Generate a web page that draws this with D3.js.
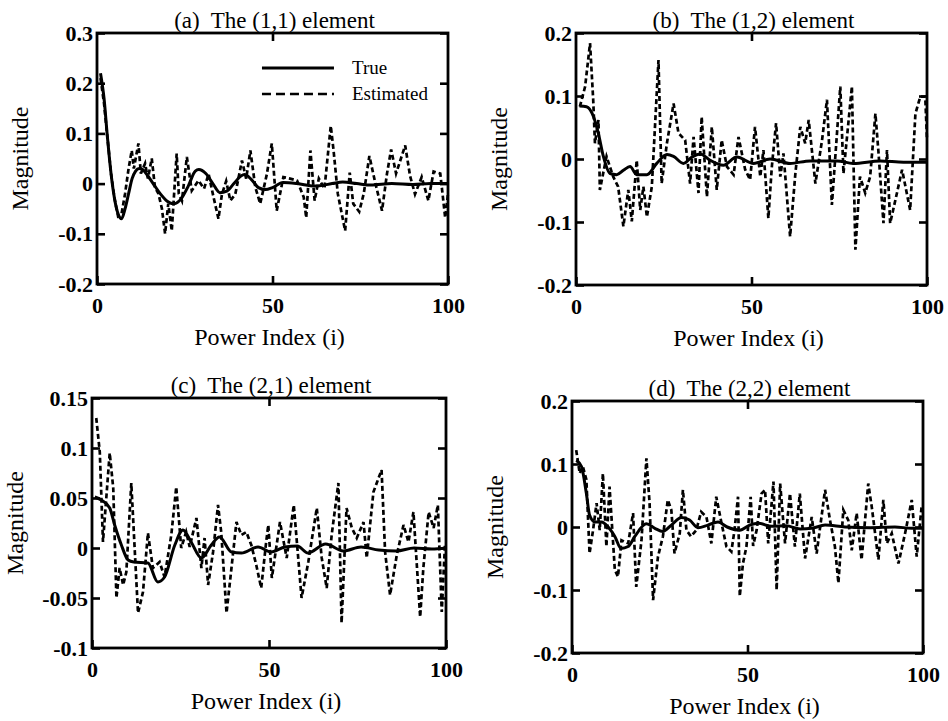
<!DOCTYPE html>
<html>
<head>
<meta charset="utf-8">
<script src="https://cdn.jsdelivr.net/npm/d3@7"></script>
<style>
  body { margin: 0; background: #fff; }
  svg text { font-family: 'Liberation Serif', 'Times New Roman', serif; fill: #000; }
</style>
</head>
<body>
<div id="chart"></div>
<script>

// ---- values ----
const xTicks = [0, 50, 100];
const yTicksA = [-0.2, -0.1, 0, 0.1, 0.2, 0.3];
const yTicksB = [-0.2, -0.1, 0, 0.1, 0.2];
const yTicksC = [-0.1, -0.05, 0, 0.05, 0.1, 0.15];
const yTicksD = [-0.2, -0.1, 0, 0.1, 0.2];

const titles = ['(a)  The (1,1) element', '(b)  The (1,2) element',
                '(c)  The (2,1) element', '(d)  The (2,2) element'];
const legendLabels = ['True', 'Estimated'];

// (a) the (1,1) element: [power index, magnitude]
const trueA = [[1,0.22],[2,0.17],[3,0.09],[4,0.02],[5,-0.03],[6,-0.06],[7,-0.07],[8,-0.05],[9,-0.02],[10,0.01],
  [11,0.025],[12,0.03],[13,0.028],[14,0.02],[16,0.0],[18,-0.02],[20,-0.035],[22,-0.04],[24,-0.03],[26,-0.005],
  [28,0.025],[29,0.028],[31,0.02],[33,0.0],[35,-0.018],[37,-0.015],[39,0.0],[41,0.015],[42,0.018],[44,0.008],
  [46,-0.008],[48,-0.012],[50,-0.008],[53,0.002],[57,0.0],[62,-0.005],[67,0.0],[70,0.003],[74,0.0],[78,-0.003],
  [84,0.0],[90,-0.002],[95,0.0],[100,0.0]];
const estA = [[1,0.21],[2,0.16],[3,0.09],[4,0.02],[5,-0.03],[6,-0.065],[7,-0.06],[8,-0.02],[9,0.03],[9.9,0.066],
  [10.5,0.03],[11.8,0.08],[12.5,0.02],[13.7,0.04],[14.5,0.01],[15.6,0.05],[16.5,-0.007],[17.5,-0.02],[18.5,-0.05],
  [19.4,-0.1],[20.3,-0.04],[21.3,-0.094],[22.7,0.06],[23.3,-0.02],[24.2,-0.034],[25.6,0.053],[27,-0.014],
  [28.9,0.006],[30.5,-0.01],[31.8,0.019],[33.2,-0.027],[34.6,-0.07],[35.6,-0.021],[36.8,0.005],[38,-0.034],
  [39.4,-0.021],[41.3,0.046],[42.5,0.01],[43.7,0.066],[45.1,-0.007],[46.5,-0.04],[48.4,0.019],[49.8,0.08],
  [51.2,-0.054],[53.1,0.013],[55,0.01],[57,0.006],[58.9,-0.027],[59.6,-0.068],[60.8,0.066],[62,-0.034],
  [63.2,0.01],[64.8,-0.01],[66.6,0.115],[67.4,0.066],[68.6,-0.02],[70.7,-0.094],[72,0.022],[73,-0.04],
  [74.7,-0.056],[76,-0.02],[77.6,0.055],[79.2,0.004],[81.2,-0.054],[82.6,0.019],[83.8,0.068],[85.2,0.02],
  [87.8,0.076],[89.2,0.015],[90.6,-0.021],[92.5,0.013],[94.4,-0.034],[95.9,0.024],[97.8,0.02],[99.2,-0.068],
  [100,-0.02]];

// (b) the (1,2) element
const trueB = [[1,0.084],[3,0.083],[5,0.067],[6.4,0.04],[7.8,0.004],[9.7,-0.023],[11.6,-0.025],[13.5,-0.018],
  [15.4,-0.012],[17.3,-0.025],[20.2,-0.025],[23,-0.007],[25.9,0.007],[27.8,0.004],[30.6,-0.007],[33,0.003],
  [35.4,0.008],[38.2,-0.002],[42,-0.01],[45.8,0.003],[50.6,-0.007],[55.3,0.0],[61,-0.007],[66.7,-0.003],
  [74.3,-0.003],[79,-0.007],[86.7,-0.003],[93.3,-0.005],[100,-0.005]];
const estB = [[1.1,0.083],[2.6,0.115],[4,0.184],[4.9,0.094],[5.4,0.025],[6.4,0.062],[6.8,-0.049],[8.7,0.004],
  [10.6,-0.028],[12,-0.044],[13.5,-0.107],[14.9,-0.049],[15.9,-0.099],[17.3,-0.002],[18.3,-0.081],[19.2,-0.044],
  [20.2,-0.092],[21.6,-0.044],[23.5,0.157],[24.4,-0.039],[25.9,0.025],[27.8,0.088],[29.2,0.041],[31.1,0.03],
  [32.5,-0.039],[33.5,0.035],[34.9,-0.054],[35.8,0.067],[37.3,-0.06],[38.7,0.051],[40.1,-0.049],[41.5,0.03],
  [43,-0.012],[44.9,-0.025],[46.3,0.035],[48.2,-0.017],[49.6,-0.033],[51,0.051],[52.5,-0.028],[53.4,0.014],
  [54.8,-0.094],[55.8,-0.012],[57,0.057],[58.2,-0.028],[59.1,0.009],[61,-0.123],[62.5,-0.023],[63.9,0.051],
  [65.3,0.025],[66.3,0.062],[68.2,-0.039],[70.1,0.03],[71.5,0.094],[72.9,-0.073],[75.3,0.115],[76.2,-0.023],
  [78.6,0.115],[79.6,-0.144],[80.9,-0.028],[82.4,-0.054],[83.8,-0.028],[85.3,0.072],[86.2,0.009],[87.6,-0.102],
  [88.6,0.014],[89.5,-0.102],[91,-0.065],[92.9,-0.017],[95.2,-0.081],[96.7,0.072],[98.1,0.099],[99.5,0.099],
  [100,0.03]];

// (c) the (2,1) element
const trueC = [[0.8,0.051],[2.6,0.048],[5,0.04],[6.4,0.023],[8.3,0.003],[10.2,-0.012],[11.8,-0.014],[15.8,-0.015],
  [18.6,-0.034],[20.5,-0.029],[23.4,0.003],[25.7,0.018],[28,0.006],[30.9,-0.01],[33.7,0.003],[36,0.011],
  [39.4,-0.004],[42.2,-0.005],[46.9,0.001],[50.6,-0.004],[54.5,0.001],[58,0.002],[61,-0.005],[66,0.004],
  [71,-0.003],[76,0.001],[81,-0.002],[86,-0.003],[91,0.0],[96,-0.001],[100,0.0]];
const estC = [[1.2,0.13],[2.2,0.096],[3.1,0.006],[4.1,0.053],[5,0.095],[6,0.06],[6.9,-0.05],[7.8,-0.02],
  [8.8,-0.037],[9.7,-0.024],[11.1,0.065],[12,0.003],[13,-0.065],[14.4,-0.044],[15.8,0.015],[17.2,-0.02],
  [19.1,-0.014],[20.5,-0.029],[22.4,0.013],[23.8,0.061],[25.2,0.0],[26.6,0.016],[27.6,0.001],[29.5,0.03],
  [30.9,-0.02],[31.8,0.01],[32.8,-0.037],[34.2,-0.004],[35.6,0.043],[36.5,0.016],[38,-0.065],[39.4,-0.02],
  [40.8,0.026],[42.2,0.013],[43.6,0.016],[45,0.003],[46.4,-0.017],[47.8,-0.04],[49.2,0.006],[49.8,0.023],
  [50.8,-0.03],[53.1,0.026],[55,-0.01],[57,0.043],[59.2,-0.05],[61.1,-0.014],[63.5,0.04],[64.9,-0.01],
  [66.3,-0.04],[67.7,0.013],[69.6,0.065],[70.5,-0.075],[71.9,0.04],[73.4,0.02],[74.8,0.01],[76.7,0.026],
  [77.6,-0.01],[79.5,0.056],[81.8,0.078],[82.8,-0.004],[84.2,-0.047],[86.1,-0.007],[88,0.023],[89.4,0.006],
  [90.8,0.036],[92.7,-0.069],[93.6,-0.02],[95.1,0.036],[96.5,0.02],[97.7,0.043],[98.8,-0.064],[99.7,0.003]];

// (d) the (2,2) element
const trueD = [[1.2,0.106],[2.7,0.096],[4.1,0.053],[5,0.019],[6.5,0.008],[8.4,0.008],[10.3,0.0],[12.2,-0.015],
  [14,-0.034],[16,-0.031],[17.9,-0.015],[21.2,0.005],[23.6,-0.002],[25.9,-0.007],[28.3,0.003],[31.2,0.015],
  [33.5,0.011],[35.9,-0.001],[38.7,0.003],[41.6,0.008],[44.2,0.0],[47.8,-0.005],[50.6,0.003],[53.1,0.006],
  [56.9,0.001],[61,0.002],[65,-0.003],[68.3,-0.002],[72.1,0.003],[77.8,0.0],[85,-0.001],[92,0.0],[96.7,-0.002],
  [100,-0.002]];
const estD = [[1.2,0.122],[2.2,0.085],[3.1,0.096],[4.1,0.075],[5,-0.042],[6,-0.005],[7,0.038],[7.9,-0.005],
  [8.8,0.085],[9.8,-0.031],[10.7,0.064],[12.2,-0.068],[13.1,-0.079],[14.1,-0.021],[16,-0.026],[17.4,0.022],
  [18.3,-0.095],[19.8,-0.021],[21.2,0.109],[22.1,0.038],[23.1,-0.116],[24.5,-0.047],[25.9,-0.015],[27.3,0.043],
  [28.3,0.027],[29.2,-0.042],[30.7,-0.01],[31.6,0.059],[32.6,-0.005],[33.9,-0.015],[35.4,-0.005],[36.8,0.024],
  [38.3,0.016],[39.7,-0.026],[41.1,0.048],[42.6,0.006],[44,-0.031],[45.4,-0.039],[46.3,-0.005],[47.3,0.048],
  [47.8,-0.11],[48.7,-0.058],[49.7,-0.031],[50.9,0.048],[51.6,-0.03],[52.6,-0.005],[54,0.053],[55,0.059],
  [55.9,-0.026],[57.4,0.072],[58.3,-0.1],[59.3,0.069],[60.7,-0.026],[62.1,0.053],[63.5,-0.031],[64.9,0.053],
  [66.4,-0.05],[68.3,0.016],[69.7,-0.042],[72.1,0.059],[73.5,0.011],[74.9,-0.031],[75.9,-0.089],[77.3,0.027],
  [78.7,0.011],[79.7,-0.037],[81.1,0.022],[82.5,-0.052],[84.4,0.069],[85.4,0.032],[87.3,-0.052],[88.7,0.043],
  [89.7,-0.026],[91.1,-0.01],[93,-0.058],[94.9,-0.01],[96.8,0.043],[98.2,-0.047],[99.6,0.032]];

// ---- layout ----
const W = 948, H = 721;
const panels = [
  { title: titles[0], left: 97,  right: 448, top: 33,  bottom: 284, yDomain: [-0.2, 0.3],  yTicks: yTicksA, tru: trueA, est: estA, legend: true },
  { title: titles[1], left: 576, right: 927, top: 33,  bottom: 285, yDomain: [-0.2, 0.2],  yTicks: yTicksB, tru: trueB, est: estB },
  { title: titles[2], left: 92,  right: 446, top: 398, bottom: 648, yDomain: [-0.1, 0.15], yTicks: yTicksC, tru: trueC, est: estC },
  { title: titles[3], left: 572, right: 923, top: 401, bottom: 653, yDomain: [-0.2, 0.2],  yTicks: yTicksD, tru: trueD, est: estD }
];
const tickLen = 8;

const svg = d3.select('#chart')
  .append('svg')
  .attr('width', W)
  .attr('height', H);

panels.forEach(p => {
  const w = p.right - p.left;
  const h = p.bottom - p.top;

  const x = d3.scaleLinear().domain([0, 100]).range([0, w]);
  const y = d3.scaleLinear().domain(p.yDomain).range([h, 0]);

  const g = svg.append('g')
    .attr('transform', `translate(${p.left}, ${p.top})`);

  // axes: inward ticks on all four sides
  const yLeft = g.append('g')
    .call(d3.axisLeft(y).tickValues(p.yTicks).tickSize(-tickLen).tickPadding(4).tickFormat(d => String(d)));
  const yRight = g.append('g')
    .attr('transform', `translate(${w}, 0)`)
    .call(d3.axisRight(y).tickValues(p.yTicks).tickSize(-tickLen).tickFormat(''));
  const xTop = g.append('g')
    .call(d3.axisTop(x).tickValues([50]).tickSize(-tickLen).tickFormat(''));
  const xBottom = g.append('g')
    .attr('transform', `translate(0, ${h})`)
    .call(d3.axisBottom(x).tickValues(xTicks).tickSize(-tickLen).tickPadding(13));

  [yLeft, yRight, xTop, xBottom].forEach(a => {
    a.select('.domain').remove();
    a.selectAll('line').attr('stroke', '#000').attr('stroke-width', 2.6);
    a.selectAll('text')
      .attr('font-family', "'Liberation Serif', serif")
      .attr('font-size', 22)
      .attr('font-weight', 'bold')
      .attr('fill', '#000');
  });

  // frame
  g.append('rect')
    .attr('width', w)
    .attr('height', h)
    .attr('fill', 'none')
    .attr('stroke', '#000')
    .attr('stroke-width', 2.8);

  // curves
  const line = d3.line()
    .x(d => x(d[0]))
    .y(d => y(d[1]));

  g.append('path')
    .datum(p.est)
    .attr('d', line)
    .attr('fill', 'none')
    .attr('stroke', '#000')
    .attr('stroke-width', 2.7)
    .attr('stroke-dasharray', '5,3');

  g.append('path')
    .datum(p.tru)
    .attr('d', line.curve(d3.curveMonotoneX))
    .attr('fill', 'none')
    .attr('stroke', '#000')
    .attr('stroke-width', 3)
    .attr('stroke-linejoin', 'round');

  // title
  g.append('text')
    .attr('x', w / 2 + 2)
    .attr('y', -5)
    .attr('text-anchor', 'middle')
    .attr('font-size', 23)
    .style('white-space', 'pre')
    .text(p.title);

  // axis labels
  g.append('text')
    .attr('x', w / 2 - 3)
    .attr('y', h + 61)
    .attr('text-anchor', 'middle')
    .attr('font-size', 24)
    .text('Power Index (i)');

  g.append('text')
    .attr('transform', `translate(-69, ${h / 2}) rotate(-90)`)
    .attr('text-anchor', 'middle')
    .attr('font-size', 24)
    .text('Magnitude');

  if (p.legend) {
    const lg = g.append('g').attr('transform', `translate(${x(47)}, 35)`);
    lg.append('line')
      .attr('x1', 0).attr('x2', 72).attr('y1', 0).attr('y2', 0)
      .attr('stroke', '#000').attr('stroke-width', 3);
    lg.append('line')
      .attr('x1', 0).attr('x2', 72).attr('y1', 26).attr('y2', 26)
      .attr('stroke', '#000').attr('stroke-width', 2.7)
      .attr('stroke-dasharray', '9,5');
    lg.selectAll('.legend-label')
      .data(legendLabels)
      .join('text')
      .attr('class', 'legend-label')
      .attr('x', 90)
      .attr('y', (d, i) => i * 26 + 6)
      .attr('font-size', 19)
      .text(d => d);
  }
});

</script>
</body>
</html>
